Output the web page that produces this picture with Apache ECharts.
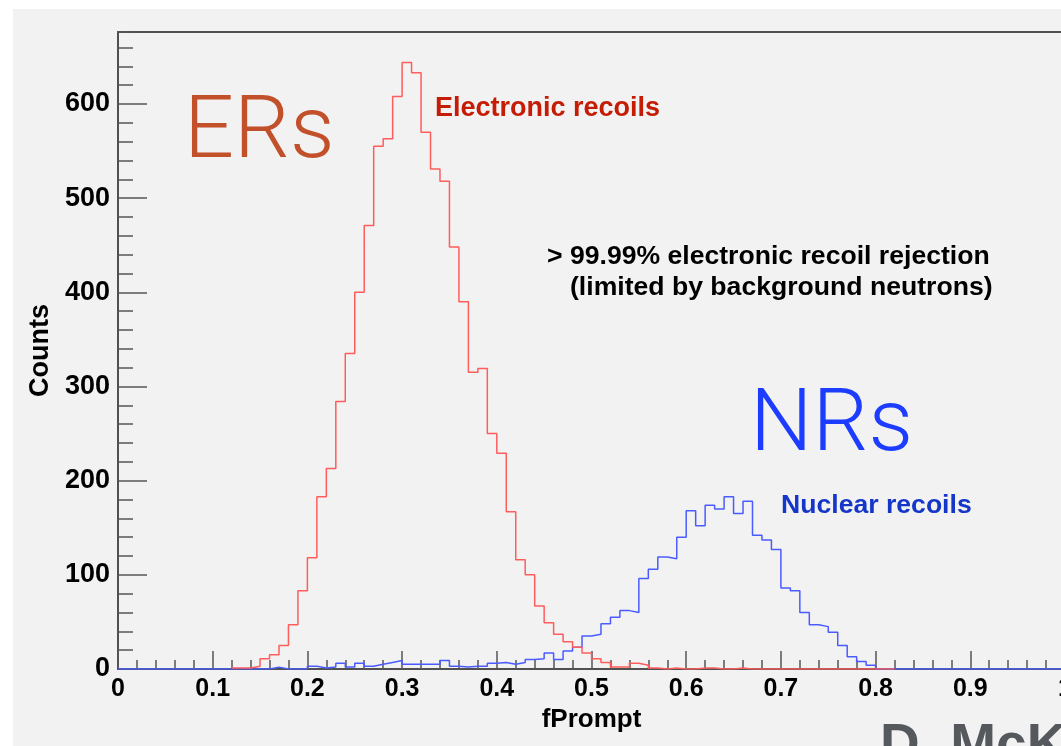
<!DOCTYPE html>
<html>
<head>
<meta charset="utf-8">
<script src="https://cdn.jsdelivr.net/npm/echarts@6/dist/echarts.min.js"></script>
<style>
  html, body { margin: 0; padding: 0; background: #ffffff; }
  #chart { width: 1061px; height: 746px; }
</style>
</head>
<body>
<div id="chart"></div>
<script>
// fPrompt histograms: 100 bins of width 0.01 covering [0, 1]
const BIN_START = 0;
const BIN_WIDTH = 0.01;

// Electronic-recoil counts per bin (null where the histogram is not drawn)
const erCounts = [
  null, null, null, null, null, null, null, null, null, null, null, null,
  1, 1, 3, 11, 15, 25, 47, 83, 118, 183,
  213, 284, 335, 400, 471, 555, 563, 608, 644, 633,
  570, 531, 518, 448, 390, 315, 319, 250, 229, 167,
  116, 100, 67, 49, 37, 29, 23, 17, 11, 7,
  2, 2, 6, 4, 1, 0, 1, 0, 0, 1,
  1, 0, 0, 1, 0,
  0, 0, 0, 0, 0, 0, 0, 0, 0, 0, 0, 0, 0, 0, 0,
  null, null, null, null, null, null, null, null, null,
  null, null, null, null, null, null, null, null, null
];

// Nuclear-recoil counts per bin
const nrCounts = [
  0, 0, 0, 0, 0, 0, 0, 0, 0, 0, 0, 0, 0, 0, 0, 0,
  2, 0, 0, 0, 3, 1, 2, 6, 2, 6,
  3, 5, 7, 9, 5, 5, 5, 5, 9, 3,
  2, 3, 3, 6, 7, 5, 7, 10, 11, 17,
  10, 19, 23, 35, 37, 48, 55, 62, 60, 96,
  106, 119, 117, 140, 168, 152, 174, 170, 183, 165,
  178, 142, 137, 127, 86, 83, 60, 47, 45, 39,
  25, 13, 8, 4,
  0, 0, 0, 0, 0, 0, 0, 0, 0, 0, 0, 0, 0, 0, 0, 0, 0, 0, 0, 0
];

// Axis ranges
const xRange = [0, 1];
const yMax = 676.4;

// Turn per-bin counts into step-line vertices (left edge of each bin,
// plus the right edge of the last drawn bin)
function toSteps(counts) {
  const pts = [];
  let last = -1;
  counts.forEach(function (c, i) {
    if (c !== null) {
      pts.push([+(BIN_START + i * BIN_WIDTH).toFixed(4), c]);
      last = i;
    }
  });
  if (last >= 0) {
    pts.push([+(BIN_START + (last + 1) * BIN_WIDTH).toFixed(4), counts[last]]);
  }
  return pts;
}

const FONT = '"Liberation Sans", Arial, Helvetica, sans-serif';
const LIGHT_FONT = 'Roboto, "Liberation Sans", sans-serif';
const AXIS_GRAY = '#505050';

const chart = echarts.init(document.getElementById('chart'), null, { renderer: 'canvas' });

const option = {
  backgroundColor: '#f2f2f2',
  animation: false,
  textStyle: { fontFamily: FONT },
  grid: {
    left: 118, right: -4, top: 32, bottom: 77,
    show: true, borderColor: AXIS_GRAY, borderWidth: 2,
    backgroundColor: 'transparent',
    containLabel: false,
    outerBoundsMode: 'none'
  },
  xAxis: {
    type: 'value',
    min: xRange[0], max: xRange[1], interval: 0.1,
    name: 'fPrompt', nameLocation: 'middle', nameGap: 34,
    nameTextStyle: { fontSize: 26, fontWeight: 'bold', color: '#000', fontFamily: FONT },
    axisLine: { show: true, lineStyle: { color: AXIS_GRAY, width: 2 } },
    axisTick: { show: true, inside: true, length: 18, lineStyle: { color: '#555', width: 1.5 } },
    minorTick: { show: true, splitNumber: 5, length: 9, lineStyle: { color: '#555', width: 1.5 } },
    axisLabel: { margin: 8, fontSize: 25, fontWeight: 'bold', color: '#000', fontFamily: FONT },
    splitLine: { show: false },
    minorSplitLine: { show: false }
  },
  yAxis: [
    {
      type: 'value',
      min: 0, max: yMax, interval: 100,
      position: 'left',
      name: 'Counts', nameLocation: 'middle', nameGap: 57,
      nameTextStyle: { fontSize: 27, fontWeight: 'bold', color: '#000', fontFamily: FONT },
      axisLine: { show: true, lineStyle: { color: AXIS_GRAY, width: 2 } },
      axisTick: { show: true, inside: true, length: 29, lineStyle: { color: '#555', width: 1.5 } },
      axisLabel: { margin: 8, fontSize: 27, fontWeight: 'bold', color: '#000', fontFamily: FONT, showMaxLabel: false },
      splitLine: { show: false }
    },
    {
      // minor ticks every 20 counts
      type: 'value',
      min: 0, max: yMax, interval: 20,
      position: 'left', offset: 0,
      axisLine: { show: false },
      axisTick: { show: true, inside: true, length: 15, lineStyle: { color: '#555', width: 1.5 } },
      axisLabel: { show: false },
      splitLine: { show: false }
    }
  ],
  series: [
    {
      type: 'line', name: 'Nuclear recoils', yAxisIndex: 0,
      data: toSteps(nrCounts), step: 'end',
      symbol: 'none', showSymbol: false, silent: true,
      lineStyle: { color: '#4a5cff', width: 1.5 },
      z: 3
    },
    {
      type: 'line', name: 'Electronic recoils', yAxisIndex: 0,
      data: toSteps(erCounts), step: 'end',
      symbol: 'none', showSymbol: false, silent: true,
      lineStyle: { color: '#ff5c5c', width: 1.5 },
      z: 4
    }
  ],
  graphic: [
    { type: 'rect', shape: { x: 0, y: 0, width: 1061, height: 9 }, style: { fill: '#ffffff' }, silent: true },
    { type: 'rect', shape: { x: 0, y: 0, width: 13, height: 746 }, style: { fill: '#ffffff' }, silent: true },
    {
      type: 'text', x: 184, y: 135,
      style: { text: 'ERs', fontSize: 88, fontWeight: 300, fontFamily: LIGHT_FONT,
               fill: '#c1502b', align: 'left', verticalAlign: 'middle' }
    },
    {
      type: 'text', x: 750, y: 428,
      style: { text: 'NRs', fontSize: 88, fontWeight: 300, fontFamily: LIGHT_FONT,
               fill: '#1c3cff', align: 'left', verticalAlign: 'middle' }
    },
    {
      type: 'text', x: 435, y: 109,
      style: { text: 'Electronic recoils', fontSize: 27, fontWeight: 'bold', fontFamily: FONT,
               fill: '#c51d05', align: 'left', verticalAlign: 'middle' }
    },
    {
      type: 'text', x: 547, y: 257,
      style: { text: '> 99.99% electronic recoil rejection', fontSize: 26.6, fontWeight: 'bold', fontFamily: FONT,
               fill: '#000000', align: 'left', verticalAlign: 'middle' }
    },
    {
      type: 'text', x: 570, y: 288,
      style: { text: '(limited by background neutrons)', fontSize: 26.6, fontWeight: 'bold', fontFamily: FONT,
               fill: '#000000', align: 'left', verticalAlign: 'middle' }
    },
    {
      type: 'text', x: 781, y: 506,
      style: { text: 'Nuclear recoils', fontSize: 26.6, fontWeight: 'bold', fontFamily: FONT,
               fill: '#1537c9', align: 'left', verticalAlign: 'middle' }
    },
    {
      type: 'text', x: 880, y: 747,
      style: { text: 'D. McKinsey', fontSize: 55, fontWeight: 'bold', fontFamily: FONT,
               fill: '#55595d', align: 'left', verticalAlign: 'middle' }
    }
  ]
};

chart.setOption(option);
</script>
</body>
</html>
